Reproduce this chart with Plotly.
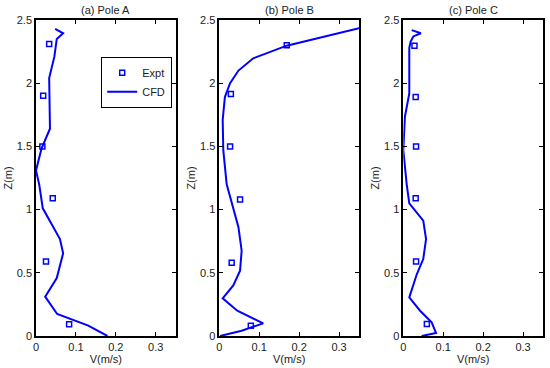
import plotly.graph_objects as go

# Pole A
a_cfd_v = [0.048, 0.068, 0.052, 0.046, 0.033, 0.035, 0.014, 0.0, 0.008, 0.017, 0.039, 0.060, 0.068, 0.052, 0.023, 0.053, 0.131, 0.179]
a_cfd_z = [2.43, 2.395, 2.35, 2.21, 2.04, 1.64, 1.485, 1.31, 1.2, 1.01, 0.886, 0.767, 0.654, 0.459, 0.311, 0.174, 0.082, 0.0]
a_exp_v = [0.033, 0.018, 0.016, 0.042, 0.025, 0.083]
a_exp_z = [2.31, 1.90, 1.50, 1.09, 0.59, 0.092]

# Pole B
b_cfd_v = [0.35, 0.169, 0.085, 0.048, 0.027, 0.014, 0.0085, 0.010, 0.0185, 0.031, 0.048, 0.056, 0.052, 0.035, 0.0085, 0.045, 0.110, 0.056, 0.002]
b_cfd_z = [2.435, 2.297, 2.197, 2.10, 2.0, 1.89, 1.71, 1.47, 1.2, 1.05, 0.86, 0.675, 0.517, 0.40, 0.298, 0.20, 0.10, 0.042, 0.0]
b_exp_v = [0.169, 0.029, 0.027, 0.052, 0.031, 0.079]
b_exp_z = [2.30, 1.915, 1.50, 1.08, 0.58, 0.082]

# Pole C
c_cfd_v = [0.021, 0.044, 0.025, 0.0185, 0.015, 0.015, 0.004, 0.0, 0.0085, 0.015, 0.050, 0.057, 0.050, 0.034, 0.015, 0.042, 0.071, 0.082, 0.046]
c_cfd_z = [2.42, 2.395, 2.37, 2.33, 2.28, 1.92, 1.735, 1.47, 1.2, 1.05, 0.912, 0.767, 0.609, 0.49, 0.306, 0.20, 0.108, 0.024, 0.0]
c_exp_v = [0.028, 0.031, 0.032, 0.031, 0.032, 0.059]
c_exp_z = [2.297, 1.89, 1.50, 1.09, 0.59, 0.095]

titles = ["(a) Pole A", "(b) Pole B", "(c) Pole C"]
x_ticks = [0, 0.1, 0.2, 0.3]
x_tick_text = ["0", "0.1", "0.2", "0.3"]
y_ticks = [0, 0.5, 1, 1.5, 2, 2.5]
y_tick_text = ["0", "0.5", "1", "1.5", "2", "2.5"]

blue = "rgb(0,0,255)"
font = "Liberation Sans, Arial, sans-serif"
txt = "#222"
fs = 11

fig = go.Figure()
panels = [(a_cfd_v, a_cfd_z, a_exp_v, a_exp_z),
          (b_cfd_v, b_cfd_z, b_exp_v, b_exp_z),
          (c_cfd_v, c_cfd_z, c_exp_v, c_exp_z)]

W = 507.0
domains = [[0, 139.7 / W], [183.3 / W, 323.0 / W], [367.3 / W, 1.0]]

for i, (cv, cz, ev, ez) in enumerate(panels):
    sfx = "" if i == 0 else str(i + 1)
    fig.add_trace(go.Scatter(x=ev, y=ez, mode="markers", name="Expt",
                             marker=dict(symbol="square-open", size=5, color=blue, line=dict(width=1.5, color=blue)),
                             xaxis="x" + sfx, yaxis="y" + sfx, showlegend=(i == 0)))
    fig.add_trace(go.Scatter(x=cv, y=cz, mode="lines", name="CFD",
                             line=dict(color=blue, width=2),
                             xaxis="x" + sfx, yaxis="y" + sfx, showlegend=(i == 0)))
    ax = dict(domain=domains[i], range=[0, 0.35], tickvals=x_ticks, ticktext=x_tick_text,
              ticks="inside", ticklen=4, tickcolor="black", showline=True, linecolor="black", linewidth=1.5,
              mirror="allticks", showgrid=False, zeroline=False, automargin=False,
              title=dict(text="V(m/s)", font=dict(size=fs, color=txt), standoff=0),
              tickfont=dict(size=fs, color=txt), anchor="y" + sfx)
    ay = dict(domain=[0, 1], range=[0, 2.5], tickvals=y_ticks, ticktext=y_tick_text,
              ticks="inside", ticklen=4, tickcolor="black", showline=True, linecolor="black", linewidth=1.5,
              mirror="allticks", showgrid=False, zeroline=False, automargin=False,
              title=dict(text="Z(m)", font=dict(size=fs, color=txt), standoff=2),
              tickfont=dict(size=fs, color=txt), anchor="x" + sfx)
    fig.layout["xaxis" + sfx] = ax
    fig.layout["yaxis" + sfx] = ay
    fig.add_annotation(text=titles[i], x=(domains[i][0] + domains[i][1]) / 2, y=1, xref="paper", yref="paper",
                       xanchor="center", yanchor="bottom", yshift=2, showarrow=False,
                       font=dict(size=fs, color=txt, family=font))

fig.update_layout(
    width=550, height=368,
    margin=dict(l=36, r=7, t=20, b=32, autoexpand=False),
    paper_bgcolor="white", plot_bgcolor="white",
    font=dict(family=font, size=fs, color=txt),
    legend=dict(x=(101 - 36) / W, y=1 - (57 - 20) / 316.0, xanchor="left", yanchor="top",
                bordercolor="black", borderwidth=1.2, bgcolor="white",
                font=dict(size=fs), itemwidth=30, tracegroupgap=0),
)

fig.write_html("out.html", config={"displayModeBar": False},
               post_script="document.body.style.margin='0px';document.body.style.overflow='hidden';")
